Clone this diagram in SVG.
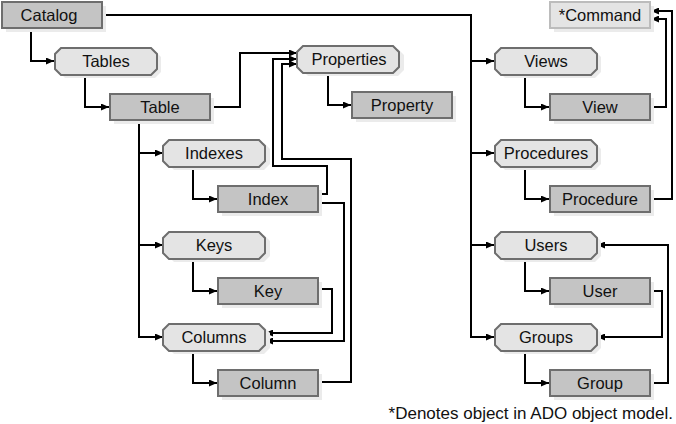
<svg xmlns="http://www.w3.org/2000/svg" width="676" height="424" viewBox="0 0 676 424">
<style>
.sh{fill:#ebebeb}
.obj{fill:#c4c4c4;stroke:#6e6e6e;stroke-width:2}
.col{fill:#e4e4e4;stroke:#6e6e6e;stroke-width:2}
.ext{fill:#e4e4e4;stroke:#bcbcbc;stroke-width:2}
text{font-family:"Liberation Sans",Arial,sans-serif;font-size:16.5px;fill:#111;text-anchor:middle}
.note{font-size:17px;text-anchor:end}
#connectors path{fill:none;stroke:#000;stroke-width:2}
</style>
<defs>
<marker id="ah" markerUnits="userSpaceOnUse" markerWidth="8" markerHeight="7" refX="8" refY="3.5" orient="auto">
<path d="M0,0 L8,3.5 L0,7 z" fill="#000"/>
</marker>
<path id="cham" d="M6,1 H96 L102,7 V22 L96,28 H6 L0,22 V7 Z"/>
</defs>
<rect width="676" height="424" fill="#fff"/>

<g id="connectors">
<path d="M31 29 V61 H54" marker-end="url(#ah)"/>
<path d="M85 75 V107 H109" marker-end="url(#ah)"/>
<path d="M211 107 H240 V53 H297" marker-end="url(#ah)"/>
<path d="M139 121 V337 H163" marker-end="url(#ah)"/>
<path d="M139 153 H163" marker-end="url(#ah)"/>
<path d="M139 245 H163" marker-end="url(#ah)"/>
<path d="M193 167 V199 H217" marker-end="url(#ah)"/>
<path d="M193 259 V291 H217" marker-end="url(#ah)"/>
<path d="M193 351 V383 H217" marker-end="url(#ah)"/>
<path d="M328 73 V105 H351" marker-end="url(#ah)"/>
<path d="M319 194 H327 V166 H273 V59 H297" marker-end="url(#ah)"/>
<path d="M319 382 H351 V159 H282 V64 H297" marker-end="url(#ah)"/>
<path d="M319 203 H344 V341 H265" marker-end="url(#ah)"/>
<path d="M319 289 H332 V333 H265" marker-end="url(#ah)"/>
<path d="M103 15 H471 V337 H494" marker-end="url(#ah)"/>
<path d="M471 61 H494" marker-end="url(#ah)"/>
<path d="M471 153 H494" marker-end="url(#ah)"/>
<path d="M471 245 H494" marker-end="url(#ah)"/>
<path d="M525 75 V107 H549" marker-end="url(#ah)"/>
<path d="M525 167 V199 H549" marker-end="url(#ah)"/>
<path d="M525 259 V291 H549" marker-end="url(#ah)"/>
<path d="M525 351 V383 H549" marker-end="url(#ah)"/>
<path d="M651 107 H666 V19 H651" marker-end="url(#ah)"/>
<path d="M651 199 H672 V11 H651" marker-end="url(#ah)"/>
<path d="M651 291 H662 V337 H597" marker-end="url(#ah)"/>
<path d="M651 383 H668 V245 H597" marker-end="url(#ah)"/>
</g>

<g id="catalog"><rect class="sh" x="6" y="6" width="100" height="26"/><rect class="obj" x="2" y="2" width="100" height="26"/><text x="49" y="21">Catalog</text></g>
<g id="tables"><use href="#cham" class="sh" x="59" y="50"/><use href="#cham" class="col" x="55" y="47"/><text x="106" y="67">Tables</text></g>
<g id="table"><rect class="sh" x="114" y="98" width="100" height="26"/><rect class="obj" x="110" y="94" width="100" height="26"/><text x="160" y="113">Table</text></g>
<g id="indexes"><use href="#cham" class="sh" x="168" y="142"/><use href="#cham" class="col" x="163" y="139"/><text x="214" y="159">Indexes</text></g>
<g id="index"><rect class="sh" x="222" y="190" width="100" height="26"/><rect class="obj" x="218" y="186" width="100" height="26"/><text x="268" y="205">Index</text></g>
<g id="keys"><use href="#cham" class="sh" x="168" y="234"/><use href="#cham" class="col" x="163" y="231"/><text x="214" y="251">Keys</text></g>
<g id="key"><rect class="sh" x="222" y="282" width="100" height="26"/><rect class="obj" x="218" y="278" width="100" height="26"/><text x="268" y="297">Key</text></g>
<g id="columns"><use href="#cham" class="sh" x="168" y="326"/><use href="#cham" class="col" x="163" y="323"/><text x="214" y="343">Columns</text></g>
<g id="column"><rect class="sh" x="222" y="374" width="100" height="26"/><rect class="obj" x="218" y="370" width="100" height="26"/><text x="268" y="389">Column</text></g>
<g id="properties"><use href="#cham" class="sh" x="302" y="48"/><use href="#cham" class="col" x="297" y="45"/><text x="349" y="65">Properties</text></g>
<g id="property"><rect class="sh" x="356" y="96" width="100" height="26"/><rect class="obj" x="352" y="92" width="100" height="26"/><text x="402" y="111">Property</text></g>
<g id="command"><rect class="sh" x="554" y="6" width="100" height="26"/><rect class="ext" x="550" y="2" width="100" height="26"/><text x="600" y="21">*Command</text></g>
<g id="views"><use href="#cham" class="sh" x="499" y="50"/><use href="#cham" class="col" x="495" y="47"/><text x="546" y="67">Views</text></g>
<g id="view"><rect class="sh" x="554" y="98" width="100" height="26"/><rect class="obj" x="550" y="94" width="100" height="26"/><text x="600" y="113">View</text></g>
<g id="procedures"><use href="#cham" class="sh" x="499" y="142"/><use href="#cham" class="col" x="495" y="139"/><text x="546" y="159">Procedures</text></g>
<g id="procedure"><rect class="sh" x="554" y="190" width="100" height="26"/><rect class="obj" x="550" y="186" width="100" height="26"/><text x="600" y="205">Procedure</text></g>
<g id="users"><use href="#cham" class="sh" x="499" y="234"/><use href="#cham" class="col" x="495" y="231"/><text x="546" y="251">Users</text></g>
<g id="user"><rect class="sh" x="554" y="282" width="100" height="26"/><rect class="obj" x="550" y="278" width="100" height="26"/><text x="600" y="297">User</text></g>
<g id="groups"><use href="#cham" class="sh" x="499" y="326"/><use href="#cham" class="col" x="495" y="323"/><text x="546" y="343">Groups</text></g>
<g id="group"><rect class="sh" x="554" y="374" width="100" height="26"/><rect class="obj" x="550" y="370" width="100" height="26"/><text x="600" y="389">Group</text></g>

<text class="note" x="673" y="419">*Denotes object in ADO object model.</text>
</svg>
